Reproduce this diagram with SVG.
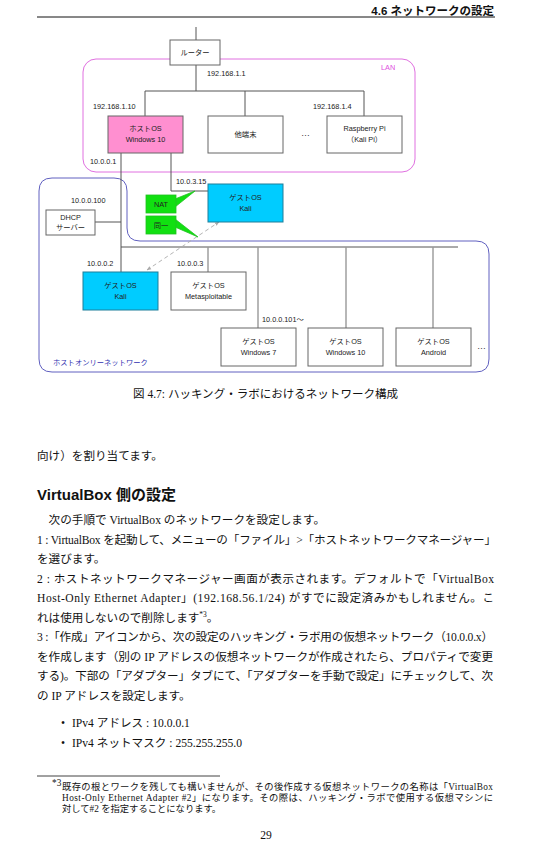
<svg xmlns="http://www.w3.org/2000/svg" width="533" height="845" viewBox="0 0 533 845">
<style>
.bg{fill:#ffffff}
.f{font-family:"Liberation Sans","Noto Sans CJK JP",sans-serif;font-size:7.3px;fill:#222}
.c{text-anchor:middle}
.el{font-family:"Liberation Sans","Noto Sans CJK JP",sans-serif;font-size:9px;fill:#333}
.box{fill:#ffffff;stroke:#666;stroke-width:1}
.pink{fill:#ff8fd0;stroke:#666;stroke-width:1}
.cyan{fill:#00ccff;stroke:#1f7f9a;stroke-width:1}
.green{fill:#11e011;stroke:#22c022;stroke-width:0.8}
.ln{fill:none;stroke:#555;stroke-width:1}
.ln2{fill:none;stroke:#999;stroke-width:1.4}
.body{font-family:"Liberation Serif","Noto Sans CJK JP",serif;font-size:11.6px;fill:#111}
.fn{font-family:"Liberation Serif","Noto Sans CJK JP",serif;font-size:9.3px;fill:#111}
.hd{font-family:"Liberation Sans","Noto Sans CJK JP",sans-serif;font-weight:bold;fill:#111}
</style>
<defs>
<marker id="ah" viewBox="0 0 10 10" refX="9" refY="5" markerWidth="5" markerHeight="5" orient="auto-start-reverse">
<path d="M0,1 L10,5 L0,9 z" fill="#aaa"/>
</marker>
</defs>
<rect class="bg" x="0" y="0" width="533" height="845"/>

<!-- header -->
<text class="hd" x="494" y="14.5" font-size="11.5" text-anchor="end">4.6 ネットワークの設定</text>
<line x1="37" y1="17" x2="495" y2="17" stroke="#111" stroke-width="1"/>

<!-- network areas -->
<g id="lan-area">
<rect x="83" y="59" width="332" height="113" rx="13" ry="13" fill="none" stroke="#e070e0" stroke-width="1"/>
<text class="f" x="381" y="70" style="fill:#e050e0">LAN</text>
</g>
<g id="hostonly-area">
<path d="M52,178 H114 Q127,178 127,191 V228 Q127,241 140,241 H476 Q489,241 489,254 V359 Q489,372 476,372 H52 Q39,372 39,359 V191 Q39,178 52,178 Z" fill="none" stroke="#6060c0" stroke-width="1"/>
<text class="f" x="53" y="365" style="fill:#3030b0">ホストオンリーネットワーク</text>
</g>

<!-- connectors -->
<g id="connectors">
<line class="ln" x1="196" y1="27" x2="196" y2="40"/>
<polyline class="ln" points="196,65 196,91"/>
<polyline class="ln" points="145,116 145,91 364,91 364,116"/>
<line class="ln" x1="245" y1="91" x2="245" y2="116"/>
<line class="ln" x1="121" y1="153" x2="121" y2="272"/>
<polyline class="ln" points="171,153 171,191 208,191"/>
<line class="ln" x1="95" y1="222" x2="121" y2="222"/>
<line class="ln" x1="121" y1="247" x2="458" y2="247"/>
<line class="ln2" x1="208" y1="247" x2="208" y2="272"/>
<line class="ln2" x1="258" y1="247" x2="258" y2="328"/>
<line class="ln2" x1="346" y1="247" x2="346" y2="328"/>
<line class="ln2" x1="433" y1="247" x2="433" y2="328"/>
<line x1="147" y1="270" x2="219" y2="222" stroke="#aaa" stroke-width="0.9" stroke-dasharray="4,3" marker-start="url(#ah)" marker-end="url(#ah)"/>
</g>

<!-- address labels -->
<g id="labels">
<text class="f" x="207" y="76">192.168.1.1</text>
<text class="f" x="93" y="109">192.168.1.10</text>
<text class="f" x="313" y="109">192.168.1.4</text>
<text class="f" x="90" y="164">10.0.0.1</text>
<text class="f" x="176" y="184">10.0.3.15</text>
<text class="f" x="71" y="203">10.0.0.100</text>
<text class="f" x="87" y="266">10.0.0.2</text>
<text class="f" x="177" y="266">10.0.0.3</text>
<text class="f" x="262" y="322">10.0.0.101～</text>
<text class="el" x="301" y="136">…</text>
<text class="el" x="477" y="349">…</text>
</g>

<g id="router">
<rect class="box" x="170" y="40" width="50" height="25"/>
<text class="f c" x="195" y="55">ルーター</text>
</g>
<g id="host-os">
<rect class="pink" x="108" y="116" width="75" height="37"/>
<text class="f c" x="145.5" y="131">ホストOS</text>
<text class="f c" x="145.5" y="141.5">Windows 10</text>
</g>
<g id="other-terminal">
<rect class="box" x="208" y="116" width="75" height="37"/>
<text class="f c" x="245.5" y="137">他端末</text>
</g>
<g id="raspberry-pi">
<rect class="box" x="327" y="116" width="75" height="37"/>
<text class="f c" x="364.5" y="131">Raspberry Pi</text>
<text class="f c" x="364.5" y="141.5">（Kali Pi）</text>
</g>
<g id="dhcp">
<rect class="box" x="46" y="210" width="49" height="25"/>
<text class="f c" x="70.5" y="219.5">DHCP</text>
<text class="f c" x="70.5" y="230">サーバー</text>
</g>
<g id="kali-nat">
<rect class="cyan" x="208" y="184" width="75" height="38"/>
<text class="f c" x="245.5" y="200">ゲストOS</text>
<text class="f c" x="245.5" y="211">Kali</text>
</g>
<g id="nat-callout">
<polygon class="green" points="175,199 195,191 175,207"/>
<rect class="green" x="146" y="195" width="30" height="18"/>
<text class="f c" x="161" y="206.5">NAT</text>
</g>
<g id="same-callout">
<polygon class="green" points="175,219 198,237 175,227"/>
<rect class="green" x="146" y="216" width="30" height="18"/>
<text class="f c" x="161" y="227.5">同一</text>
</g>
<g id="kali-hostonly">
<rect class="cyan" x="83" y="272" width="75" height="38"/>
<text class="f c" x="120.5" y="288">ゲストOS</text>
<text class="f c" x="120.5" y="299">Kali</text>
</g>
<g id="metasploitable">
<rect class="box" x="171" y="272" width="75" height="38"/>
<text class="f c" x="208.5" y="288">ゲストOS</text>
<text class="f c" x="208.5" y="299">Metasploitable</text>
</g>
<g id="win7">
<rect class="box" x="221" y="328" width="75" height="38"/>
<text class="f c" x="258.5" y="344">ゲストOS</text>
<text class="f c" x="258.5" y="355">Windows 7</text>
</g>
<g id="win10">
<rect class="box" x="308" y="328" width="75" height="38"/>
<text class="f c" x="345.5" y="344">ゲストOS</text>
<text class="f c" x="345.5" y="355">Windows 10</text>
</g>
<g id="android">
<rect class="box" x="396" y="328" width="75" height="38"/>
<text class="f c" x="433.5" y="344">ゲストOS</text>
<text class="f c" x="433.5" y="355">Android</text>
</g>

<!-- caption -->
<text class="body" x="133" y="398" font-size="11.8" textLength="265" lengthAdjust="spacingAndGlyphs">図 4.7: ハッキング・ラボにおけるネットワーク構成</text>

<!-- body text -->
<text class="body" x="37" y="460">向け）を割り当てます。</text>
<text class="hd" x="37" y="500" font-size="15">VirtualBox 側の設定</text>
<text class="body" x="37" y="524">　次の手順で VirtualBox のネットワークを設定します。</text>
<text class="body" x="37" y="543.6" textLength="459" lengthAdjust="spacing">1 : VirtualBox を起動して、メニューの「ファイル」&gt;「ホストネットワークマネージャー」</text>
<text class="body" x="37" y="563.1">を選びます。</text>
<text class="body" x="37" y="582.7" textLength="457" lengthAdjust="spacing">2 : ホストネットワークマネージャー画面が表示されます。デフォルトで「VirtualBox</text>
<text class="body" x="37" y="602.2" textLength="457" lengthAdjust="spacing">Host-Only Ethernet Adapter」(192.168.56.1/24) がすでに設定済みかもしれません。こ</text>
<text class="body" x="37" y="621.8">れは使用しないので削除します<tspan font-size="7.5" dy="-4.5">*3</tspan><tspan dy="4.5">。</tspan></text>
<text class="body" x="37" y="641.3" textLength="456" lengthAdjust="spacing">3 :「作成」アイコンから、次の設定のハッキング・ラボ用の仮想ネットワーク（10.0.0.x）</text>
<text class="body" x="37" y="660.9" textLength="456" lengthAdjust="spacing">を作成します（別の IP アドレスの仮想ネットワークが作成されたら、プロパティで変更</text>
<text class="body" x="37" y="680.4" textLength="456" lengthAdjust="spacing">する)。下部の「アダプター」タブにて、「アダプターを手動で設定」にチェックして、次</text>
<text class="body" x="37" y="700">の IP アドレスを設定します。</text>
<text class="body" x="61" y="727">•</text>
<text class="body" x="72" y="727">IPv4 アドレス : 10.0.0.1</text>
<text class="body" x="61" y="747">•</text>
<text class="body" x="72" y="747">IPv4 ネットマスク : 255.255.255.0</text>

<!-- footnote -->
<line x1="37" y1="776" x2="220" y2="776" stroke="#111" stroke-width="0.8"/>
<text class="fn" x="52" y="786" font-size="6.5">*3</text>
<text class="fn" x="62" y="790" textLength="431" lengthAdjust="spacing">既存の根とワークを残しても構いませんが、その後作成する仮想ネットワークの名称は「VirtualBox</text>
<text class="fn" x="62" y="801" textLength="431" lengthAdjust="spacing">Host-Only Ethernet Adapter #2」になります。その際は、ハッキング・ラボで使用する仮想マシンに</text>
<text class="fn" x="62" y="812">対して#2 を指定することになります。</text>
<text class="body" x="266" y="839" text-anchor="middle">29</text>
</svg>
